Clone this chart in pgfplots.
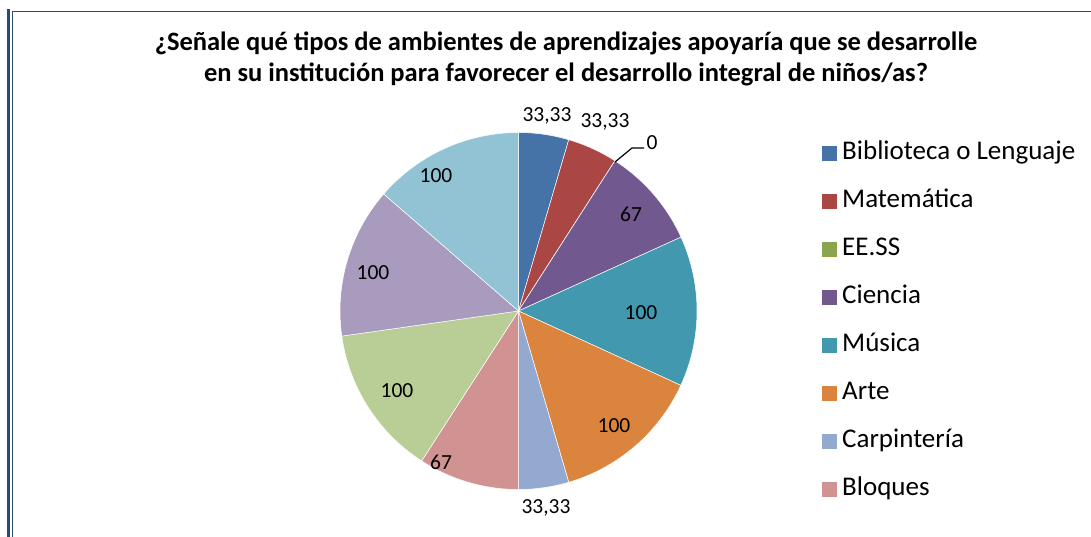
\documentclass[border=0pt]{standalone}
\usepackage{pgfplots}
\usepackage{pgfplotstable}
\usepackage{fontspec}
\setmainfont{Carlito}
\pgfplotsset{compat=1.18}

\definecolor{cA}{HTML}{4572A7}
\definecolor{cB}{HTML}{AA4643}
\definecolor{cC}{HTML}{89A54E}
\definecolor{cD}{HTML}{71588F}
\definecolor{cE}{HTML}{4198AF}
\definecolor{cF}{HTML}{DB843D}
\definecolor{cG}{HTML}{93A9CF}
\definecolor{cH}{HTML}{D19392}
\definecolor{cI}{HTML}{B9CD96}
\definecolor{cJ}{HTML}{A99BBD}
\definecolor{cK}{HTML}{92C3D4}
\definecolor{frame}{HTML}{2C4A70}

% slice values, clockwise from 12 o'clock
\pgfplotstableread{
value col
33.33 cA
33.33 cB
0     cC
67    cD
100   cE
100   cF
33.33 cG
67    cH
100   cI
100   cJ
100   cK
}\piedata

% data labels (x, y in px of the 1091x537 frame, y measured upwards)
\pgfplotstableread{
x y lab
547 421 {33,33}
605 415 {33,33}
652 394 {0}
631 323 {67}
641 224 {100}
614 111 {100}
546 29 {33,33}
441 75 {67}
397 146 {100}
373 264 {100}
436 361 {100}
}\labdata

\gdef\tot{0}
\pgfplotstableforeachcolumnelement{value}\of\piedata\as\v{%
  \pgfmathsetmacro\t{\tot+\v}\xdef\tot{\t}}

\begin{document}
\begin{tikzpicture}
\begin{axis}[
    name=ax,
    width=1091pt, height=537pt, scale only axis,
    xmin=0, xmax=1091, ymin=0, ymax=537,
    hide axis, clip=false,
    legend image code/.code={\fill[#1, draw=none] (0pt,-7.5pt) rectangle (15pt,7.5pt);},
    legend style={at={(axis cs:819,398)}, anchor=north west, draw=none, fill=none,
      font=\fontsize{27}{31}\selectfont, row sep=24pt,
      nodes={inner sep=1pt, text height=17pt, text depth=5pt},
      /tikz/every odd column/.append style={column sep=4pt}},
    legend cell align=left,
    title={¿Señale qué tipos de ambientes de aprendizajes apoyaría que se desarrolle\\en su institución para favorecer el desarrollo integral de niños/as?},
    title style={at={(axis cs:566,472)}, anchor=center, align=center,
      font=\fontsize{26.5}{31}\selectfont\bfseries},
  ]
  \addlegendimage{fill=cA}\addlegendentry{Biblioteca o Lenguaje}
  \addlegendimage{fill=cB}\addlegendentry{Matemática}
  \addlegendimage{fill=cC}\addlegendentry{EE.SS}
  \addlegendimage{fill=cD}\addlegendentry{Ciencia}
  \addlegendimage{fill=cE}\addlegendentry{Música}
  \addlegendimage{fill=cF}\addlegendentry{Arte}
  \addlegendimage{fill=cG}\addlegendentry{Carpintería}
  \addlegendimage{fill=cH}\addlegendentry{Bloques}

  % pie slices from the table
  \gdef\angA{90}
  \pgfplotstableforeachcolumnelement{value}\of\piedata\as\v{%
    \pgfplotstablegetelem{\pgfplotstablerow}{col}\of\piedata
    \let\c\pgfplotsretval
    \pgfmathsetmacro\angB{\angA-\v/\tot*360}%
    \edef\slice{\noexpand\fill[\c, draw=white, line width=0.5pt]
      (axis cs:518.5,226) -- ++(\angA:178.5pt)
      arc[start angle=\angA, end angle=\angB, radius=178.5pt] -- cycle;}%
    \slice
    \xdef\angA{\angB}%
  }

  % leader line of the zero label
  \addplot[black, line width=1.2pt, forget plot] coordinates {(615,375) (632,389) (644,389)};

  \addplot[draw=none, forget plot, nodes near coords, point meta=explicit symbolic,
    nodes near coords style={anchor=center, inner sep=0pt, text=black,
      font=\fontsize{21.5}{24}\selectfont}]
    table[x=x, y=y, meta=lab] {\labdata};

  % chart frame
  \draw[frame, line width=2.4pt] (axis cs:8.5,528) -- (axis cs:8.5,0);
  \draw[frame, line width=1.4pt] (axis cs:12.5,526) -- (axis cs:12.5,0);
  \draw[frame, line width=1.6pt] (axis cs:12,525.5) -- (axis cs:1091,525.5);
\end{axis}
\pgfresetboundingbox
\useasboundingbox (ax.south west) rectangle (ax.north east);
\end{tikzpicture}
\end{document}
